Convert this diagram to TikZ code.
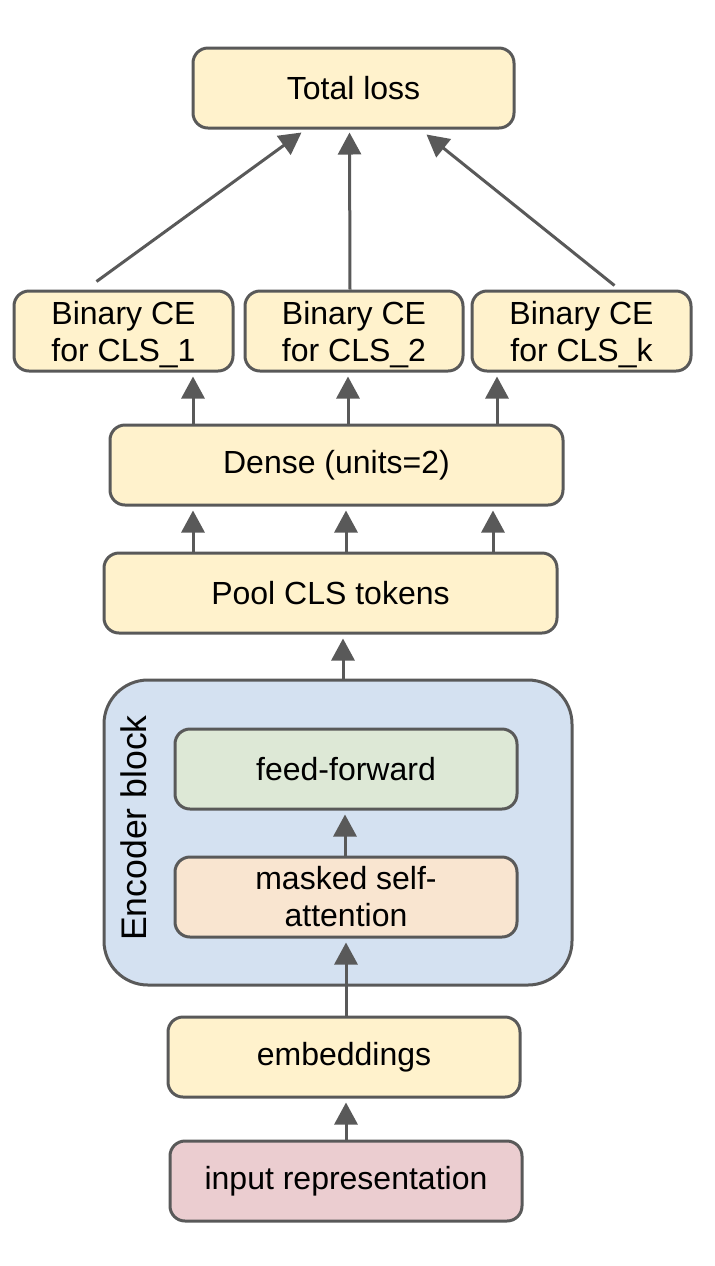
\documentclass[tikz,border=0pt]{standalone}
\usepackage{fontspec}
\setmainfont{Liberation Sans}
\usetikzlibrary{arrows.meta}
\definecolor{cline}{RGB}{89,89,89}
\definecolor{cyellow}{RGB}{255,242,204}
\definecolor{cgreen}{RGB}{221,232,214}
\definecolor{cpeach}{RGB}{249,229,208}
\definecolor{cblue}{RGB}{212,225,241}
\definecolor{cpink}{RGB}{235,205,208}
\tikzset{px/.style={x=0.5pt,y=-0.5pt,font=\fontsize{16}{18.5}\selectfont},
  blk/.style={draw=cline,line width=1.5pt,rounded corners=7.5pt,fill=cyellow,align=center,minimum height=40pt,inner sep=0pt},
  arr/.style={draw=cline,line width=1.5pt,shorten >=2pt,-{Triangle[width=11.5pt,length=11pt]}}}

\begin{document}
\begin{tikzpicture}[px]
    \useasboundingbox (0,0) rectangle (714,1266);
    % outer encoder block first, so the inner boxes sit on it
    \node[blk,fill=cblue,rounded corners=22pt,minimum width=234pt,minimum height=152.5pt] (enc) at (338,832.5) {};
    \node[rotate=90,inner sep=0pt,font=\fontsize{17.8}{20}\selectfont] (enclbl) at (134,828) {Encoder block};
    \node[blk,fill=cgreen,minimum width=171pt] (ff) at (346,769) {feed-forward};
    \node[blk,fill=cpeach,minimum width=171pt] (msa) at (346,897) {masked self-\\attention};
    \node[blk,minimum width=176pt] (emb) at (344,1057) {embeddings};
    \node[blk,fill=cpink,minimum width=176pt] (inp) at (346,1181) {input representation};
    \node[blk,minimum width=226.5pt] (pool) at (330.5,593) {Pool CLS tokens};
    \node[blk,minimum width=226.5pt] (dense) at (336.5,465) {Dense (units=2)};
    \node[blk,minimum width=109.5pt,text depth=0pt] (ce1) at (123.5,331) {Binary CE\\for CLS\_1};
    \node[blk,minimum width=109pt,text depth=0pt] (ce2) at (354,331) {Binary CE\\for CLS\_2};
    \node[blk,minimum width=109.5pt,text depth=0pt] (ce3) at (581.5,331) {Binary CE\\for CLS\_k};
    \node[blk,minimum width=160.5pt] (loss) at (353.5,88) {Total loss};
    % connectors
    \draw[arr] (inp.north -| 346,0) -- (emb.south -| 346,0);
    \draw[arr] (emb.north -| 346,0) -- (msa.south -| 346,0);
    \draw[arr] (msa.north -| 345,0) -- (ff.south -| 345,0);
    \draw[arr] (enc.north -| 343,0) -- (pool.south -| 343,0);
    \foreach \x in {193,346,493} \draw[arr] (pool.north -| \x,0) -- (dense.south -| \x,0);
    \foreach \x/\t in {193/ce1,348/ce2,497/ce3} \draw[arr] (dense.north -| \x,0) -- (\t.south -| \x,0);
    \draw[arr,shorten >=0pt] ([shift={(-27,-8)}]ce1.north) -- ([shift={(-52,3)}]loss.south);
    \draw[arr,shorten >=0pt] ([shift={(-4,0)}]ce2.north) -- ([shift={(-4,3)}]loss.south);
    \draw[arr,shorten >=0pt] ([shift={(33,-4)}]ce3.north) -- ([shift={(73,5)}]loss.south);
\end{tikzpicture}
\end{document}
